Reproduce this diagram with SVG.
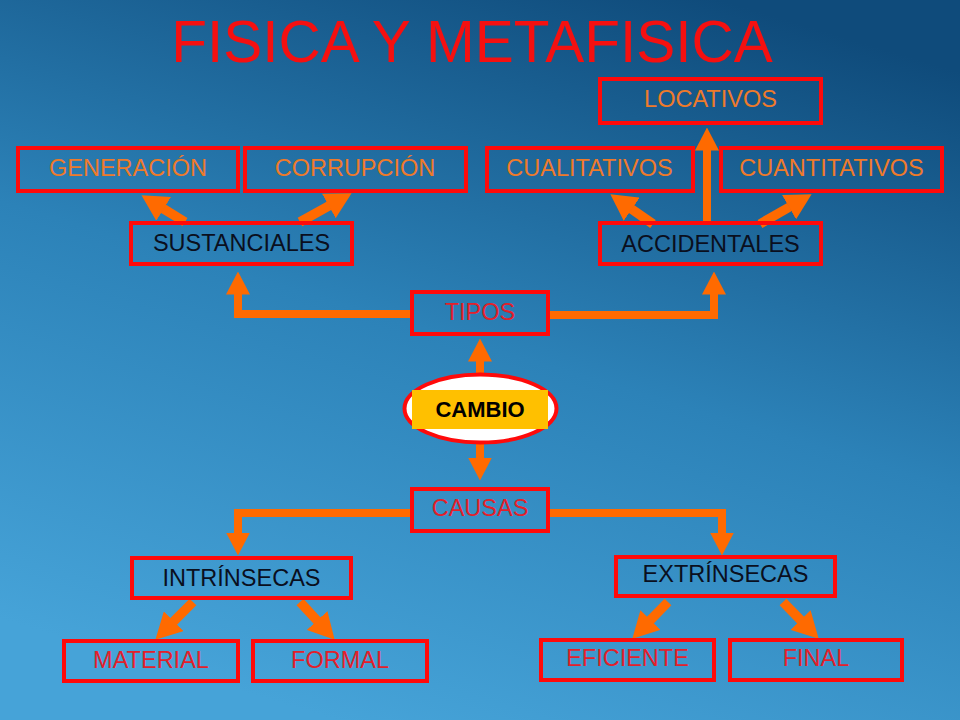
<svg xmlns="http://www.w3.org/2000/svg" width="960" height="720" viewBox="0 0 960 720">
<defs>
<linearGradient id="bg" x1="0.75" y1="0" x2="0.35" y2="1">
<stop offset="0" stop-color="#0f4b7b"/>
<stop offset="0.5" stop-color="#2c82b8"/>
<stop offset="1" stop-color="#46a3d8"/>
</linearGradient>
<marker id="ah" markerUnits="userSpaceOnUse" viewBox="0 -12 23 24" markerWidth="23" markerHeight="24" refX="0.5" refY="0" orient="auto">
<path d="M0,-12 L23,0 L0,12 Z" fill="#ff6a00"/>
</marker>
<marker id="ahd" markerUnits="userSpaceOnUse" viewBox="0 -14 26 28" markerWidth="26" markerHeight="28" refX="0.5" refY="0" orient="auto">
<path d="M0,-14 L26,0 L0,14 Z" fill="#ff6a00"/>
</marker>
<style>
.box{fill:none;stroke:#ff0a0a;stroke-width:4}
.t{font-family:"Liberation Sans",Arial,sans-serif;font-size:23.5px;text-anchor:middle}
.o{fill:#ef7a2a}
.k{fill:#0a0f1e}
.r{fill:#e3202a}
.c{fill:none;stroke:#ff6a00;stroke-width:8;marker-end:url(#ah)}
.d{fill:none;stroke:#ff6a00;stroke-width:9.5;marker-end:url(#ahd)}
</style>
</defs>
<rect x="0" y="0" width="960" height="720" fill="url(#bg)"/>
<text x="472" y="62" font-family="Liberation Sans,Arial,sans-serif" font-size="58.5" fill="#f51010" text-anchor="middle">FISICA Y METAFISICA</text>

<g id="connectors">
<path class="c" d="M411,314 H238 V294"/>
<path class="c" d="M548,315 H714 V294"/>
<path class="c" d="M480,373 V361"/>
<path class="c" d="M480,444 V458"/>
<path class="c" d="M411,513 H238 V533"/>
<path class="c" d="M548,513 H722 V533"/>
<path class="c" d="M707,223 V150"/>
<path class="d" d="M185,222 L163.2,208.6"/>
<path class="d" d="M300,222 L329.3,205.7"/>
<path class="d" d="M653,224 L631.3,208.9"/>
<path class="d" d="M760,224 L789.5,207"/>
<path class="d" d="M193,602 L173.4,621.6"/>
<path class="d" d="M300,602 L317.4,620.9"/>
<path class="d" d="M668,602 L650.1,620.4"/>
<path class="d" d="M783,602 L800.9,620.4"/>
</g>

<g id="generacion"><rect class="box" x="18" y="148" width="220" height="43"/><text class="t o" x="128" y="176">GENERACIÓN</text></g>
<g id="corrupcion"><rect class="box" x="245" y="148" width="221" height="43"/><text class="t o" x="355" y="176">CORRUPCIÓN</text></g>
<g id="sustanciales"><rect class="box" x="131" y="223" width="221" height="41"/><text class="t k" x="241.5" y="251">SUSTANCIALES</text></g>
<g id="locativos"><rect class="box" x="600" y="79" width="221" height="44"/><text class="t o" x="710.5" y="107">LOCATIVOS</text></g>
<g id="cualitativos"><rect class="box" x="487" y="148" width="206" height="43"/><text class="t o" x="589.5" y="176">CUALITATIVOS</text></g>
<g id="cuantitativos"><rect class="box" x="721" y="148" width="221" height="43"/><text class="t o" x="831.5" y="176">CUANTITATIVOS</text></g>
<g id="accidentales"><rect class="box" x="600" y="223" width="221" height="41"/><text class="t k" x="710.5" y="252">ACCIDENTALES</text></g>
<g id="tipos"><rect class="box" x="412" y="292" width="136" height="42"/><text class="t r" x="480" y="320">TIPOS</text></g>
<g id="cambio">
<ellipse cx="480.5" cy="408.5" rx="76" ry="34" fill="#ffffff" stroke="#ff0a0a" stroke-width="4"/>
<rect x="412" y="390" width="136" height="39" fill="#ffc000"/>
<text x="480" y="417" font-family="Liberation Sans,Arial,sans-serif" font-size="22" font-weight="bold" fill="#000" text-anchor="middle">CAMBIO</text>
</g>
<g id="causas"><rect class="box" x="412" y="489" width="136" height="42"/><text class="t r" x="480" y="516">CAUSAS</text></g>
<g id="intrinsecas"><rect class="box" x="132" y="558" width="219" height="40"/><text class="t k" x="241.5" y="586">INTRÍNSECAS</text></g>
<g id="extrinsecas"><rect class="box" x="616" y="557" width="219" height="39"/><text class="t k" x="725.5" y="582">EXTRÍNSECAS</text></g>
<g id="material"><rect class="box" x="64" y="641" width="174" height="40"/><text class="t r" x="151" y="668">MATERIAL</text></g>
<g id="formal"><rect class="box" x="253" y="641" width="174" height="40"/><text class="t r" x="340" y="668">FORMAL</text></g>
<g id="eficiente"><rect class="box" x="541" y="640" width="173" height="40"/><text class="t r" x="627.5" y="666">EFICIENTE</text></g>
<g id="final"><rect class="box" x="730" y="640" width="172" height="40"/><text class="t r" x="816" y="666">FINAL</text></g>
</svg>
